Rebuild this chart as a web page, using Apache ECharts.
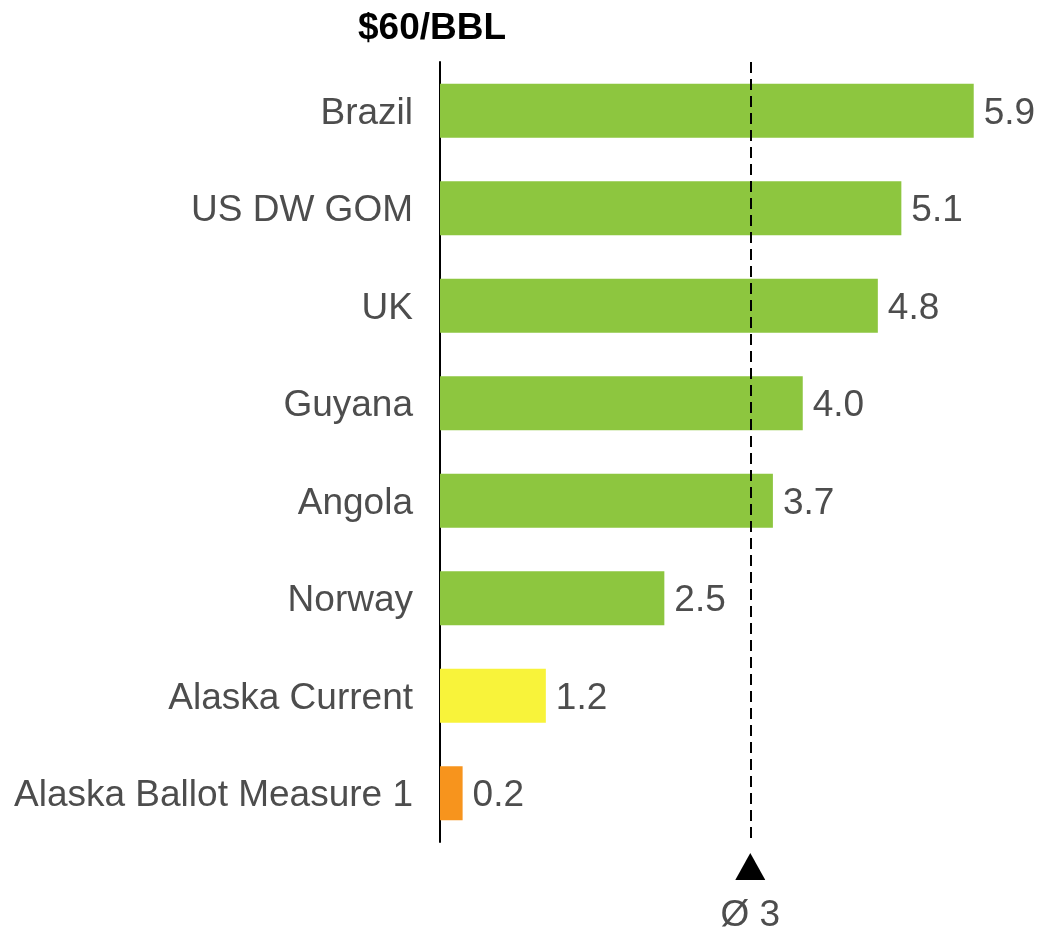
<!DOCTYPE html>
<html>
<head>
<meta charset="utf-8">
<style>
  html, body { margin: 0; padding: 0; background: #fff; }
  #chart { width: 1043px; height: 932px; }
</style>
<script src="https://cdn.jsdelivr.net/npm/echarts@6/dist/echarts.min.js"></script>
</head>
<body>
<div id="chart"></div>
<script>
// data
var categories = ['Brazil', 'US DW GOM', 'UK', 'Guyana', 'Angola', 'Norway', 'Alaska Current', 'Alaska Ballot Measure 1'];
var barValues = [5.9, 5.1, 4.84, 4.01, 3.68, 2.48, 1.17, 0.25];
var valueLabels = ['5.9', '5.1', '4.8', '4.0', '3.7', '2.5', '1.2', '0.2'];
var avgValue = 3.43;
var avgLabel = 'Ø 3';
var titleText = '$60/BBL';

var barColors = ['#8dc63f', '#8dc63f', '#8dc63f', '#8dc63f', '#8dc63f', '#8dc63f', '#f8f33a', '#f7941d'];
var textColor = '#4d4d4d';
var fontFamily = '"Liberation Sans", Arial, sans-serif';

var myChart = echarts.init(document.getElementById('chart'));

var option = {
    animation: false,
    backgroundColor: '#fff',
    textStyle: { fontFamily: fontFamily },
    grid: { left: 440, top: 62, width: 588, bottom: 90 },
    xAxis: {
        type: 'value',
        min: 0,
        max: 6.5,
        show: false
    },
    yAxis: {
        type: 'category',
        inverse: true,
        data: categories,
        axisLine: { show: true, lineStyle: { color: '#000', width: 2 } },
        axisTick: { show: false },
        axisLabel: {
            margin: 27,
            formatter: function (v) { return '{c|' + v + '}'; },
            rich: {
                c: {
                    color: textColor,
                    fontSize: 37,
                    fontFamily: fontFamily,
                    lineHeight: 37,
                    padding: [6, 0, 0, 0]
                }
            }
        },
        splitLine: { show: false }
    },
    series: [{
        type: 'bar',
        barWidth: 54,
        data: barValues,
        itemStyle: {
            color: function (p) { return barColors[p.dataIndex]; }
        },
        label: {
            show: true,
            position: 'right',
            distance: 10,
            offset: [0, 3],
            color: textColor,
            fontSize: 37,
            fontFamily: fontFamily,
            formatter: function (p) { return valueLabels[p.dataIndex]; }
        },
        markLine: {
            silent: true,
            symbol: ['none', 'none'],
            label: { show: false },
            lineStyle: { color: '#000', type: [11, 6], width: 2 },
            data: [{ xAxis: avgValue }]
        },
        z: 2
    }]
};

myChart.setOption(option);

// triangle marker + average label under the dashed line
var ax = myChart.convertToPixel({ xAxisIndex: 0 }, avgValue);
myChart.setOption({
    graphic: [
        {
            type: 'text',
            left: 358,
            top: 10,
            style: {
                text: titleText,
                fill: '#000',
                font: 'bold 37px ' + fontFamily
            }
        },
        {
            type: 'polygon',
            shape: { points: [[ax - 15, 880], [ax + 15, 880], [ax, 853]] },
            style: { fill: '#000' }
        },
        {
            type: 'text',
            x: ax,
            y: 916,
            style: {
                text: avgLabel,
                fill: textColor,
                font: '37px ' + fontFamily,
                align: 'center',
                verticalAlign: 'middle'
            }
        }
    ]
});
</script>
</body>
</html>
